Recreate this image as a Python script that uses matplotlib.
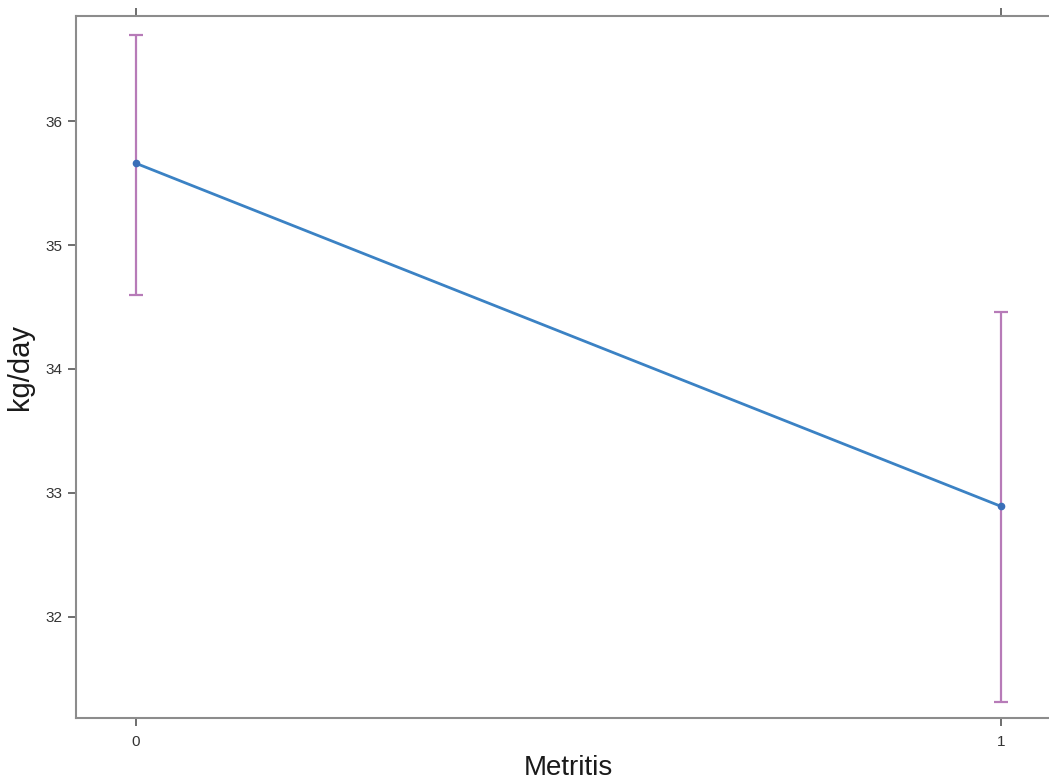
import matplotlib.pyplot as plt

plt.rcParams['font.family'] = ['Liberation Sans', 'DejaVu Sans']

metritis = [0, 1]
means = [35.66, 32.89]
upper = [36.70, 34.46]
lower = [34.60, 31.31]

fig = plt.figure(figsize=(10.49, 7.82), dpi=100)
ax = fig.add_axes([0.0725, 0.0818, 0.9389, 0.8977])

err = [[m - l for m, l in zip(means, lower)], [u - m for m, u in zip(means, upper)]]
ax.errorbar(metritis, means, yerr=err, fmt='none', ecolor='#b77bb8',
            elinewidth=1.6, capsize=5, capthick=1.6, zorder=1)
ax.plot(metritis, means, color='#3b82c4', lw=2, marker='o', ms=4.5,
        mfc='#3a6fb8', mec='#3a6fb8', zorder=2)

ax.set_xlim(-0.0694, 1.0694)
ax.set_ylim(31.18, 36.85)
ax.set_xticks(metritis)
ax.set_yticks([32, 33, 34, 35, 36])
ax.tick_params(axis='x', top=True, direction='out', length=6, width=1.2,
               colors='#555555', labelsize=11, labelcolor='#333333', pad=6)
ax.tick_params(axis='y', direction='out', length=6, width=1.2,
               colors='#555555', labelsize=11, labelcolor='#333333', pad=4)
for s in ['left', 'top', 'bottom', 'right']:
    ax.spines[s].set_color('#8c8c8c')
    ax.spines[s].set_linewidth(1.5)

ax.set_xlabel('Metritis', fontsize=20, color='#1a1a1a')
ax.set_ylabel('kg/day', fontsize=21, color='#1a1a1a')
ax.xaxis.set_label_coords(0.5, -0.052)
ax.yaxis.set_label_coords(-0.0426, 0.5)

plt.savefig('out.png', dpi=100)
